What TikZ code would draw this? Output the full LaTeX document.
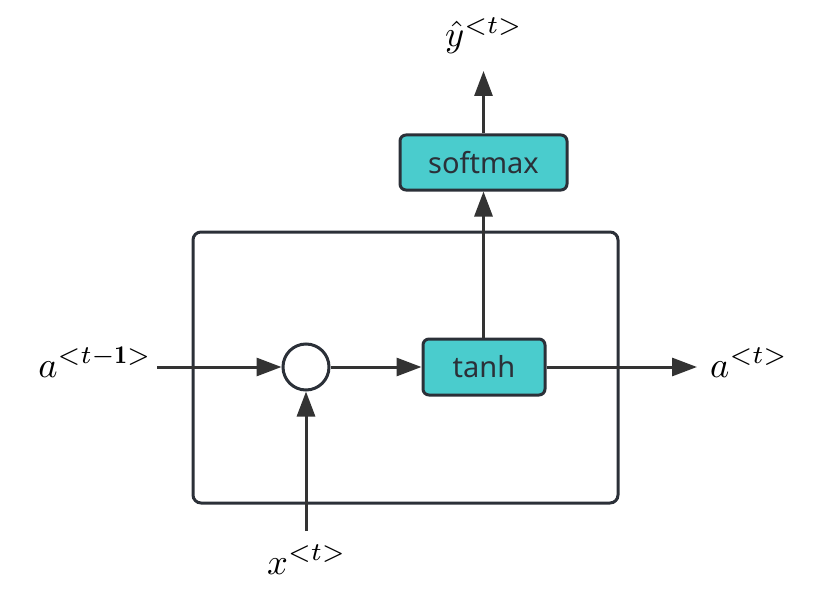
\documentclass[tikz,border=0pt]{standalone}
\usepackage{fontspec}
\usepackage{amsmath}
\usepackage{graphicx}
\newfontfamily\boxfont{Noto Sans}
\usetikzlibrary{arrows.meta}
\definecolor{tealfill}{HTML}{4ACCCD}
\definecolor{edgecol}{HTML}{2B3038}
\definecolor{arrowcol}{HTML}{333333}
\newcommand{\biglabel}[1]{\scalebox{3.65}{$#1$}}
\tikzset{
  opbox/.style={draw=edgecol, line width=3pt, fill=tealfill, rounded corners=6pt, inner sep=0pt, font=\boxfont\fontsize{29}{32}\selectfont, text=edgecol},
  conn/.style={draw=arrowcol, line width=3pt, -{Triangle[length=25pt,width=18pt]}},
  mlabel/.style={inner sep=0pt}
}
\begin{document}
\begin{tikzpicture}[x=1pt,y=-1pt]
\useasboundingbox (0,0) rectangle (818,604);
% outer cell box
\draw[draw=edgecol, line width=3pt, rounded corners=8pt] (193,232) rectangle (618,503);
% nodes
\node[circle, draw=edgecol, line width=3pt, fill=white, minimum size=46pt, inner sep=0pt] (sum) at (306,367) {};
\node[opbox, minimum width=122pt, minimum height=56pt] (tanh) at (484,367) {tanh};
\node[opbox, minimum width=167pt, minimum height=55pt] (soft) at (483.5,162.5) {softmax};
% labels
\node[mlabel, anchor=base east] (aprev) at (152,377) {\biglabel{a^{<t-\mathbf{1}>}}};
\node[mlabel, anchor=base west] (anext) at (710,377) {\biglabel{a^{<t>}}};
\node[mlabel, anchor=base west] (xin) at (267,574) {\biglabel{x^{<t>}}};
\node[mlabel, anchor=base west] (yhat) at (445,47) {\biglabel{\hat{y}^{<t>}}};
% coordinates
\coordinate (ainstart) at (157,367);
\coordinate (aoutend) at (697,367);
\coordinate (xstart) at (306,531);
\coordinate (yend) at (483.5,71);
% connectors
\draw[conn] (ainstart) -- (sum.west);
\draw[conn] (sum.east) -- (tanh.west);
\draw[conn] (tanh.east) -- (aoutend);
\draw[conn] (xstart) -- (sum.south);
\draw[conn] (tanh.north -| soft.south) -- (soft.south);
\draw[conn] (soft.north) -- (yend);
\end{tikzpicture}
\end{document}
